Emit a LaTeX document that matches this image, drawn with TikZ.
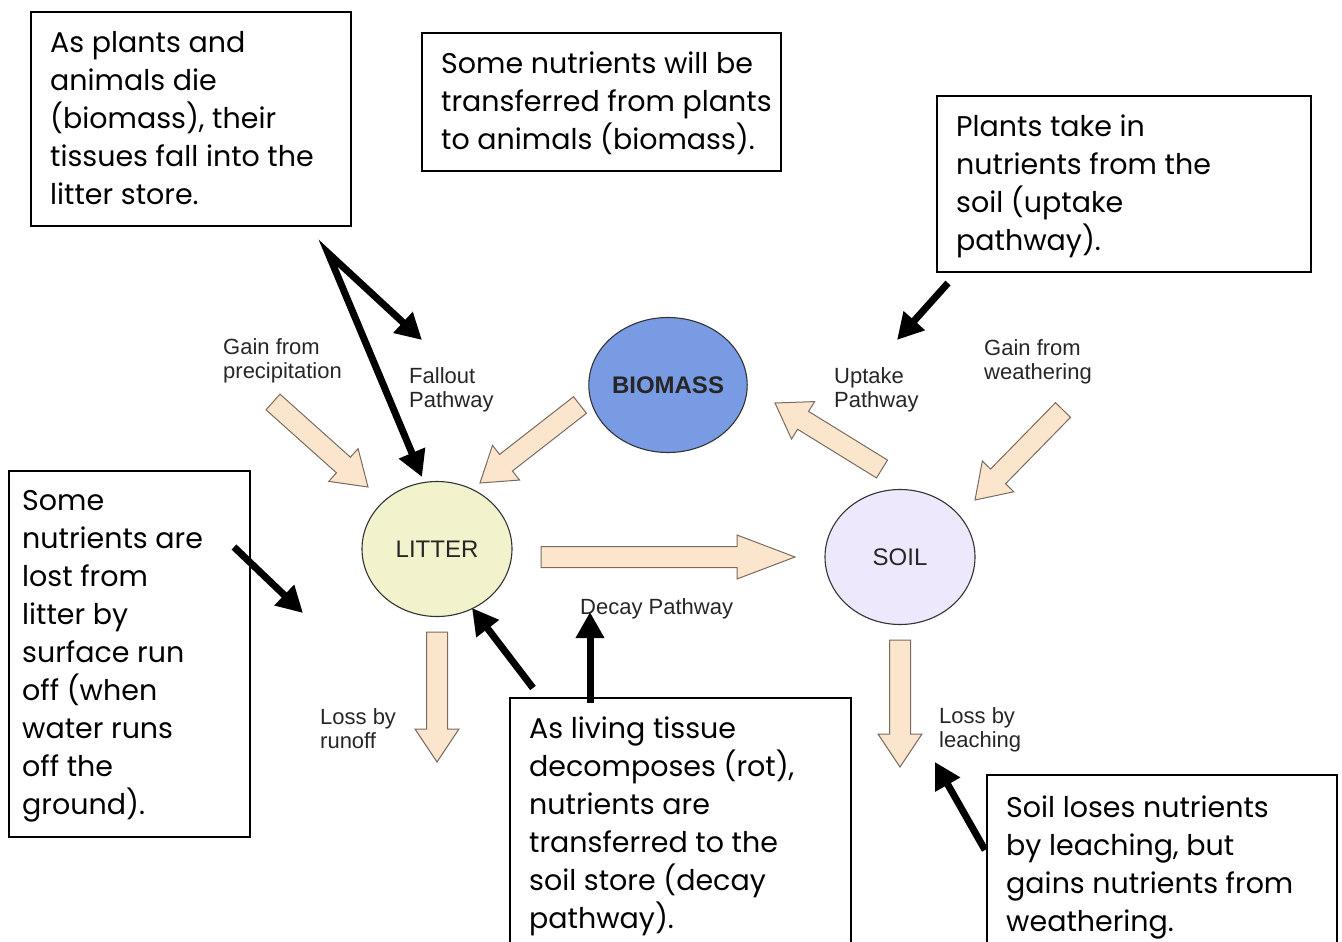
\documentclass[tikz,border=0pt]{standalone}
\usepackage{fontspec}
\setmainfont{Liberation Sans}
\newfontfamily\gothicfont{Poppins}
\usepackage{tikz}
\usetikzlibrary{arrows.meta,calc,shapes.geometric}
\definecolor{beige}{RGB}{252,229,205}
\definecolor{beigeedge}{RGB}{120,108,96}
\definecolor{biomassblue}{RGB}{120,155,228}
\definecolor{litteryellow}{RGB}{242,242,205}
\definecolor{soillilac}{RGB}{237,232,251}
\definecolor{labelgrey}{RGB}{38,38,38}
\newcommand{\gothic}{\gothicfont\fontsize{28.5}{38}\selectfont}
\tikzset{notebox/.style={draw=black, line width=1.6pt, anchor=north west, inner sep=0pt}}
\tikzset{notetext/.style={anchor=north west, inner sep=0pt, align=left, font=\gothic}}
\tikzset{store/.style={ellipse, draw=black!80, line width=1.1pt,
  minimum width=150pt, minimum height=135pt, inner sep=0pt,
  font=\fontsize{24}{26}\selectfont, text=black!85}}
\tikzset{tag/.style={anchor=west, align=left, inner sep=0pt,
  font=\fontsize{22}{24}\selectfont, text=labelgrey}}
\tikzset{fat/.style={fill=beige, draw=beigeedge, line width=1pt, line join=miter}}
\tikzset{pointer/.style={line width=7pt, ->}}
\newcommand{\fatarrow}[3][33]{%
  \coordinate (hb) at ($(#3)!#1pt!(#2)$);
  \draw[fat] ($(#2)!10.5pt!90:(#3)$) -- ($(hb)!10.5pt!90:(#3)$)
    -- ($(hb)!22pt!90:(#3)$) -- (#3) -- ($(hb)!22pt!-90:(#3)$)
    -- ($(hb)!10.5pt!-90:(#3)$) -- ($(#2)!10.5pt!-90:(#3)$) -- cycle;}

\begin{document}
\begin{tikzpicture}[x=1pt, y=-1pt, >={Triangle[length=26pt,width=27pt]}]
\useasboundingbox (0,0) rectangle (1342,942);
\clip (0,0) rectangle (1342,942);

\node[store, fill=biomassblue, font=\fontsize{24}{26}\bfseries] (biomass) at (668,385) {BIOMASS};
\node[store, fill=litteryellow] (litter) at (437,549) {LITTER};
\node[store, fill=soillilac] (soil) at (900,557) {SOIL};

\coordinate (pr0) at (273,402); \coordinate (pr1) at (368,487);
\coordinate (fa0) at (580,405); \coordinate (fa1) at (480,483);
\coordinate (up0) at (882,469); \coordinate (up1) at (775,403);
\coordinate (we0) at (1063,410); \coordinate (we1) at (975,500);
\coordinate (ru0) at (437,632); \coordinate (ru1) at (437,762);
\coordinate (le0) at (900,640); \coordinate (le1) at (900,767);
\coordinate (de0) at (541,557); \coordinate (de1) at (795,557);

\fatarrow{pr0}{pr1}
\fatarrow{fa0}{fa1}
\fatarrow{up0}{up1}
\fatarrow{we0}{we1}
\fatarrow{ru0}{ru1}
\fatarrow{le0}{le1}
\fatarrow[58]{de0}{de1}

\node[tag] (precip) at (223,361) {Gain from\\precipitation};
\node[tag] (fallout) at (409,390) {Fallout\\Pathway};
\node[tag] (uptake) at (834,390) {Uptake\\Pathway};
\node[tag] (weather) at (984,362) {Gain from\\weathering};
\node[tag] (decay) at (580,609) {Decay Pathway};
\node[tag] (runoff) at (320,729) {Loss by\\runoff};
\node[tag] (leach) at (939,730) {Loss by\\leaching};

\node[notebox, minimum width=320pt, minimum height=214pt] (deathbox) at (30,11) {};
\node[notetext] (deathtext) at ([shift={(20,20)}]deathbox.north west)
  {As plants and\\animals die\\(biomass), their\\tissues fall into the\\litter store.};
\node[notebox, minimum width=359pt, minimum height=138pt] (eatbox) at (421,32) {};
\node[notetext] (eattext) at ([shift={(20,20)}]eatbox.north west)
  {Some nutrients will be\\transferred from plants\\to animals (biomass).};
\node[notebox, minimum width=374pt, minimum height=176pt] (uptakebox) at (936,95) {};
\node[notetext] (uptaketext) at ([shift={(20,20)}]uptakebox.north west)
  {Plants take in\\nutrients from the\\soil (uptake\\pathway).};
\node[notebox, minimum width=241pt, minimum height=366pt] (runoffbox) at (8,470) {};
\node[notetext] (runofftext) at ([shift={(14,20)}]runoffbox.north west)
  {Some\\nutrients are\\lost from\\litter by\\surface run\\off (when\\water runs\\off the\\ground).};
\node[notebox, minimum width=341pt, minimum height=260pt] (rotbox) at (509,697) {};
\node[notetext] (rottext) at ([shift={(20,20)}]rotbox.north west)
  {As living tissue\\decomposes (rot),\\nutrients are\\transferred to the\\soil store (decay\\pathway).};
\node[notebox, minimum width=350pt, minimum height=190pt] (leachbox) at (986,774) {};
\node[notetext] (leachtext) at ([shift={(20,22)}]leachbox.north west)
  {Soil loses nutrients\\by leaching, but\\gains nutrients from\\weathering.};

\coordinate (vtop) at (328,253);
\coordinate (fallouttip) at (422,340);
\coordinate (littertip) at (422,477);
\draw[pointer, <->, line join=miter] (fallouttip) -- (vtop) -- (littertip);

\coordinate (uptakefoot) at (948,283);
\coordinate (uptaketip) at (897,340);
\draw[pointer] (uptakefoot) -- (uptaketip);

\coordinate (runofffoot) at (234,547);
\coordinate (runofftip) at (303,613);
\draw[pointer] (runofffoot) -- (runofftip);

\coordinate (rotfoot) at (533,688);
\coordinate (rottip) at (472,608);
\draw[pointer] (rotfoot) -- (rottip);

\coordinate (decayfoot) at (590,703);
\coordinate (decaytip) at (590,612);
\draw[pointer] (decayfoot) -- (decaytip);

\coordinate (leachfoot) at (985,850);
\coordinate (leachtip) at (935,762);
\draw[pointer] (leachfoot) -- (leachtip);

\end{tikzpicture}
\end{document}
